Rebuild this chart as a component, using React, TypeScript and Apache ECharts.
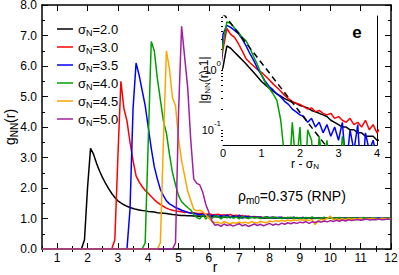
import React, { useEffect, useRef } from 'react';
import * as echarts from 'echarts';

const FONT = '"Liberation Sans", Arial, Helvetica, sans-serif';

// ---- main panel: g_NN(r), sampled every 0.1 from each series' start ----
const R_MIN = 0.5;
const R_MAX = 12;
const R_STEP = 0.1;
const SIGMA_LABELS = ['2.0', '3.0', '3.5', '4.0', '4.5', '5.0'];
const SIGMAS = [2.0, 3.0, 3.5, 4.0, 4.5, 5.0];
const COLORS = ['#000000', '#ff0000', '#0000ff', '#00a000', '#ffa500', '#a020a0'];
const STARTS = [1.8, 2.8, 3.3, 3.8, 4.3, 4.8];

const G_S20 = [
  0, 0.3, 2.0, 3.3, 3.1, 2.8, 2.55, 2.33, 2.14, 1.97,
  1.82, 1.69, 1.58, 1.51, 1.45, 1.4, 1.36, 1.33, 1.3, 1.28,
  1.26, 1.25, 1.23, 1.22, 1.21, 1.19, 1.18, 1.17, 1.16, 1.15,
  1.13, 1.12, 1.11, 1.1, 1.1, 1.09, 1.09, 1.08, 1.08, 1.07,
  1.07, 1.07, 1.06, 1.06, 1.06, 1.05, 1.05, 1.05, 1.04, 1.04,
  1.04, 1.04, 1.03, 1.03, 1.03, 1.03, 1.03, 1.03, 1.03, 1.02,
  1.02, 1.02, 1.02, 1.02, 1.02, 1.02, 1.02, 1.02, 1.02, 1.02,
  1.02, 1.02, 1.02, 1.02, 1.02, 1.01, 1.02, 1.01, 1.01, 1.01,
  1.01, 1.01, 1.01, 1.01, 1.01, 1.01, 1.01, 1.01, 1.01, 1.01,
  1.01, 1.01, 1.01, 1.0, 1.01, 1.0, 1.0, 1.0, 1.0, 1.0,
  1.0, 1.0, 1.0,
];
const G_S30 = [
  0, 0.3, 3.0, 5.5, 4.6, 4.2, 3.5, 2.9, 2.4, 2.2,
  2.05, 1.92, 1.83, 1.72, 1.62, 1.53, 1.46, 1.4, 1.34, 1.3,
  1.27, 1.25, 1.24, 1.22, 1.2, 1.21, 1.18, 1.19, 1.17, 1.16,
  1.17, 1.14, 1.15, 1.13, 1.12, 1.14, 1.11, 1.12, 1.1, 1.13,
  1.09, 1.11, 1.08, 1.1, 1.06, 1.08, 1.05, 1.07, 1.04, 1.05,
  1.03, 1.05, 1.02, 1.04, 1.03, 1.02, 1.04, 1.01, 1.03, 1.02,
  1.03, 1.01, 1.02, 1.03, 1.0, 1.02, 1.03, 1.01, 1.02, 1.0,
  1.02, 1.01, 1.03, 1.0, 1.01, 1.02, 1.0, 1.02, 1.01, 1.0,
  1.01, 1.02, 0.99, 1.01, 1.0, 1.02, 1.0, 0.99, 1.01, 1.0,
  1.0, 1.01, 0.99,
];
const G_S35 = [
  0, 1.3, 4.6, 6.1, 5.7, 5.2, 4.7, 4.0, 3.3, 2.7,
  2.3, 1.95, 1.75, 1.58, 1.48, 1.42, 1.36, 1.32, 1.27, 1.24,
  1.2, 1.18, 1.16, 1.15, 1.12, 1.14, 1.1, 1.12, 1.08, 1.11,
  1.07, 1.1, 1.06, 1.12, 1.02, 1.09, 1.04, 1.11, 1.01, 1.08,
  1.04, 1.06, 1.03, 1.05, 1.04, 1.02, 1.05, 1.03, 1.04, 1.02,
  1.04, 1.03, 1.01, 1.03, 1.02, 1.04, 1.01, 1.02, 1.03, 1.01,
  1.02, 1.03, 1.0, 1.02, 1.01, 1.03, 1.01, 1.02, 1.0, 1.02,
  1.01, 1.0, 1.02, 1.01, 1.0, 1.02, 1.01, 0.99, 1.01, 1.0,
  1.01, 1.0, 1.01, 1.02, 1.0, 1.01, 0.99, 1.0,
];
const G_S40 = [
  0, 0.2, 3.5, 6.8, 6.5, 5.6, 4.9, 4.2, 3.8, 3.1,
  2.5, 2.1, 1.75, 1.55, 1.45, 1.36, 1.28, 1.13, 1.03, 0.99,
  1.12, 0.98, 1.1, 1.0, 1.09, 1.06, 0.99, 1.07, 1.02, 1.06,
  1.01, 1.05, 0.99, 1.07, 1.03, 1.0, 1.05, 1.02, 1.04, 1.0,
  1.03, 1.05, 1.01, 1.03, 1.04, 1.02, 1.0, 1.03, 1.02, 1.04,
  1.01, 1.03, 1.02, 1.0, 1.03, 1.01, 1.04, 1.02, 1.0, 1.02,
  1.03, 1.01, 1.02, 1.0, 1.02, 1.03, 1.01, 1.0, 1.02, 1.01,
  1.02, 1.0, 1.01, 1.03, 1.01, 1.0, 1.02, 1.01, 0.99, 1.01,
  1.0, 1.02, 1.0,
];
const G_S45 = [
  0, 0.2, 3.5, 6.5, 5.9, 4.95, 4.7, 3.6, 2.9, 2.4,
  1.9, 1.6, 1.3, 1.25, 1.27, 1.22, 1.12, 1.0, 0.9, 0.86,
  0.88, 0.83, 0.9, 0.86, 0.82, 0.87, 0.84, 0.89, 0.85, 0.88,
  0.84, 0.9, 0.87, 0.85, 0.91, 0.88, 0.86, 0.92, 0.89, 0.93,
  0.9, 0.94, 0.91, 0.95, 0.92, 0.96, 0.93, 0.97, 0.94, 0.96,
  0.93, 0.97, 0.8, 0.92, 0.97, 0.95, 1.0, 1.08, 0.96, 0.98,
  0.97, 0.99, 0.96, 1.0, 0.97, 0.99, 0.98, 1.0, 0.97, 0.99,
  0.98, 1.0, 0.97, 0.99, 1.0, 0.98, 0.99, 0.98,
];
const G_S50 = [
  0, 0.2, 4.5, 7.3, 6.3, 5.3, 3.6, 2.3, 2.15, 2.1,
  1.85, 1.45, 1.2, 0.92, 0.78, 0.8, 0.74, 0.82, 0.77, 0.8,
  0.75, 0.79, 0.83, 0.76, 0.8, 0.74, 0.78, 0.82, 0.77, 0.81,
  0.76, 0.8, 0.84, 0.78, 0.82, 0.79, 0.85, 0.81, 0.86, 0.83,
  0.87, 0.84, 0.88, 0.86, 0.9, 0.84, 0.89, 0.87, 0.91, 0.88,
  0.92, 0.89, 0.93, 0.9, 0.94, 0.91, 0.95, 0.92, 0.96, 0.93,
  0.95, 0.97, 0.94, 0.96, 0.98, 0.95, 0.97, 0.96, 0.98, 0.96,
  0.97, 0.98, 0.97,
];
const G_VALUES = [G_S20, G_S30, G_S35, G_S40, G_S45, G_S50];

const X_MAJOR_TICKS = [1, 2, 3, 4, 5, 6, 7, 8, 9, 10, 11, 12];
const X_MINOR_TICKS = [0.5, 1.5, 2.5, 3.5, 4.5, 5.5, 6.5, 7.5, 8.5, 9.5, 10.5, 11.5];
const Y_MIN = 0;
const Y_MAX = 8;
const Y_INTERVAL = 1;

// ---- inset: |g_NN(r) - 1| versus r - sigma_N (log scale) ----
const INSET_COUNT = 4; // sigma 2.0, 3.0, 3.5, 4.0
const INSET_X_MIN = 0;
const INSET_X_MAX = 4;
const INSET_Y_MIN = 0.05;
const INSET_Y_MAX = 7.3;
const INSET_Y_MAJOR = [0.1, 1];
const INSET_Y_MINOR = [0.06, 0.07, 0.08, 0.09, 0.2, 0.3, 0.4, 0.5, 0.6, 0.7, 0.8, 0.9, 2, 3, 4, 5, 6, 7];
const DASH_X = [0, 3];
const DASH_Y = [8.1, 0.026];

function mainPoints(idx: number): number[][] {
  const pts: number[][] = [[R_MIN, 0]];
  G_VALUES[idx].forEach((g, i) => {
    pts.push([Math.round((STARTS[idx] + i * R_STEP) * 100) / 100, g]);
  });
  return pts;
}

function insetPoints(idx: number): number[][] {
  return mainPoints(idx)
    .map(([r, g]) => [Math.round((r - SIGMAS[idx]) * 100) / 100, Math.max(Math.abs(g - 1), 0.005)])
    .filter(([x]) => x >= -0.1 && x <= 4.3);
}

const BLACK = '#000';

const subRich = (big: number, small: number, drop: number, lh: number) => ({
  a: { fontSize: big, lineHeight: lh, fontFamily: FONT, fill: BLACK, color: BLACK },
  s: { fontSize: small, lineHeight: lh - drop, padding: [drop, 0, 0, 0], fontFamily: FONT, fill: BLACK, color: BLACK },
});

export default function App() {
  const ref = useRef<HTMLDivElement>(null);
  useEffect(() => {
    if (!ref.current) return;
    const chart = echarts.init(ref.current, undefined, { renderer: 'svg' });

    const tickStyle = { color: BLACK, width: 1 };
    const frame = { show: true, onZero: false, lineStyle: { color: BLACK, width: 1.5 } };
    const insetFrame = { show: true, onZero: false, lineStyle: { color: BLACK, width: 1 } };
    const noSplit = { show: false };

    const mainSeries = SIGMA_LABELS.map((lab, i) => ({
      name: lab,
      type: 'line',
      xAxisIndex: 0,
      yAxisIndex: 0,
      data: mainPoints(i),
      showSymbol: false,
      symbol: 'none',
      lineStyle: { color: COLORS[i], width: 1.5 },
      itemStyle: { color: COLORS[i] },
      z: 3 + i,
    }));

    const insetSeries = SIGMA_LABELS.slice(0, INSET_COUNT).map((lab, i) => ({
      name: 'inset ' + lab,
      type: 'line',
      xAxisIndex: 4,
      yAxisIndex: 2,
      data: insetPoints(i),
      showSymbol: false,
      symbol: 'none',
      clip: true,
      lineStyle: { color: COLORS[i], width: 1.5 },
      z: 10 + i,
    }));

    const option: any = {
      animation: false,
      backgroundColor: '#fff',
      textStyle: { fontFamily: FONT },
      grid: [
        { left: 42, right: 8, top: 5, bottom: 26, containLabel: false, outerBoundsMode: 'none' },
        { left: 223, right: 22, top: 16, bottom: 130, containLabel: false, outerBoundsMode: 'none', show: true, backgroundColor: '#fff', borderWidth: 0, z: 1 },
      ],
      legend: {
        data: SIGMA_LABELS,
        orient: 'vertical',
        left: 52,
        top: 16,
        icon: 'rect',
        itemWidth: 16,
        itemHeight: 1.5,
        itemGap: 2,
        textStyle: {
          color: BLACK,
          fontFamily: FONT,
          fontSize: 13,
          rich: {
            a: { fontSize: 13, lineHeight: 16, fontFamily: FONT, color: BLACK },
            s: { fontSize: 9, lineHeight: 9, padding: [7, 0, 0, 0], fontFamily: FONT, color: BLACK },
          },
        },
        formatter: (name: string) => `{a|σ}{s|N}{a|=${name}}`,
      },
      xAxis: [
        {
          gridIndex: 0, type: 'value', min: R_MIN, max: R_MAX, position: 'bottom',
          axisLine: frame,
          axisTick: { show: true, inside: true, length: 6, customValues: X_MAJOR_TICKS, lineStyle: tickStyle },
          axisLabel: { customValues: X_MAJOR_TICKS, fontSize: 12, lineHeight: 12, color: BLACK, margin: 3, fontFamily: FONT },
          splitLine: noSplit,
        },
        {
          gridIndex: 0, type: 'value', min: R_MIN, max: R_MAX, position: 'bottom',
          axisLine: { show: false },
          axisTick: { show: true, inside: true, length: 3, customValues: X_MINOR_TICKS, lineStyle: tickStyle },
          axisLabel: { show: false }, splitLine: noSplit,
        },
        {
          gridIndex: 0, type: 'value', min: R_MIN, max: R_MAX, position: 'top',
          axisLine: frame,
          axisTick: { show: true, inside: true, length: 6, customValues: X_MAJOR_TICKS, lineStyle: tickStyle },
          axisLabel: { show: false }, splitLine: noSplit,
        },
        {
          gridIndex: 0, type: 'value', min: R_MIN, max: R_MAX, position: 'top',
          axisLine: { show: false },
          axisTick: { show: true, inside: true, length: 3, customValues: X_MINOR_TICKS, lineStyle: tickStyle },
          axisLabel: { show: false }, splitLine: noSplit,
        },
        {
          gridIndex: 1, type: 'value', min: INSET_X_MIN, max: INSET_X_MAX, interval: 1, position: 'bottom',
          axisLine: insetFrame,
          axisTick: { show: true, inside: true, length: 4, lineStyle: tickStyle },
          minorTick: { show: true, splitNumber: 2, length: 2, lineStyle: tickStyle },
          axisLabel: { fontSize: 11, lineHeight: 11, color: BLACK, margin: 2, fontFamily: FONT },
          splitLine: noSplit, minorSplitLine: { show: false },
        },
        {
          gridIndex: 1, type: 'value', min: INSET_X_MIN, max: INSET_X_MAX, interval: 1, position: 'top',
          axisLine: insetFrame,
          axisTick: { show: true, inside: true, length: 4, lineStyle: tickStyle },
          minorTick: { show: true, splitNumber: 2, length: 2, lineStyle: tickStyle },
          axisLabel: { show: false }, splitLine: noSplit, minorSplitLine: { show: false },
        },
      ],
      yAxis: [
        {
          gridIndex: 0, type: 'value', min: Y_MIN, max: Y_MAX, interval: Y_INTERVAL, position: 'left',
          axisLine: frame,
          axisTick: { show: true, inside: true, length: 6, lineStyle: tickStyle },
          minorTick: { show: true, splitNumber: 2, length: 3, lineStyle: tickStyle },
          axisLabel: { fontSize: 12, lineHeight: 11, color: BLACK, margin: 5, fontFamily: FONT, formatter: (v: number) => v.toFixed(1) },
          splitLine: noSplit, minorSplitLine: { show: false },
        },
        {
          gridIndex: 0, type: 'value', min: Y_MIN, max: Y_MAX, interval: Y_INTERVAL, position: 'right',
          axisLine: frame,
          axisTick: { show: true, inside: true, length: 6, lineStyle: tickStyle },
          minorTick: { show: true, splitNumber: 2, length: 3, lineStyle: tickStyle },
          axisLabel: { show: false }, splitLine: noSplit, minorSplitLine: { show: false },
        },
        {
          gridIndex: 1, type: 'log', logBase: 10, min: INSET_Y_MIN, max: INSET_Y_MAX, position: 'left',
          axisLine: insetFrame,
          axisTick: { show: true, inside: true, length: 4, customValues: INSET_Y_MAJOR, lineStyle: tickStyle },
          axisLabel: {
            customValues: INSET_Y_MAJOR, margin: 2, color: BLACK, fontFamily: FONT,
            formatter: (v: number) => `{b|10}{p|${Math.round(Math.log10(v))}}`,
            rich: {
              b: { fontSize: 11, lineHeight: 12, padding: [5, 0, 0, 0], fontFamily: FONT, color: BLACK },
              p: { fontSize: 8, lineHeight: 9, padding: [0, 0, 8, 0], fontFamily: FONT, color: BLACK },
            },
          },
          splitLine: noSplit,
        },
        {
          gridIndex: 1, type: 'log', logBase: 10, min: INSET_Y_MIN, max: INSET_Y_MAX, position: 'left',
          axisLine: { show: false },
          axisTick: { show: true, inside: true, length: 2, customValues: INSET_Y_MINOR, lineStyle: tickStyle },
          axisLabel: { show: false }, splitLine: noSplit,
        },
        {
          gridIndex: 1, type: 'log', logBase: 10, min: INSET_Y_MIN, max: INSET_Y_MAX, position: 'right',
          axisLine: insetFrame,
          axisTick: { show: true, inside: true, length: 4, customValues: INSET_Y_MAJOR, lineStyle: tickStyle },
          axisLabel: { show: false }, splitLine: noSplit,
        },
        {
          gridIndex: 1, type: 'log', logBase: 10, min: INSET_Y_MIN, max: INSET_Y_MAX, position: 'right',
          axisLine: { show: false },
          axisTick: { show: true, inside: true, length: 2, customValues: INSET_Y_MINOR, lineStyle: tickStyle },
          axisLabel: { show: false }, splitLine: noSplit,
        },
      ],
      series: [
        ...mainSeries,
        ...insetSeries,
        {
          name: 'inset fit',
          type: 'line',
          xAxisIndex: 4,
          yAxisIndex: 2,
          data: DASH_X.map((x, i) => [x, DASH_Y[i]]),
          showSymbol: false,
          symbol: 'none',
          clip: true,
          lineStyle: { color: BLACK, width: 1.5, type: [6, 4] },
          z: 20,
        },
      ],
      graphic: [
        {
          type: 'text', x: 10, y: 127, rotation: Math.PI / 2, z: 50,
          style: { text: '{a|g}{s|NN}{a|(r)}', align: 'center', verticalAlign: 'middle', rich: subRich(14, 10, 8, 18) },
        },
        {
          type: 'text', x: 215, y: 267, z: 50,
          style: { text: 'r', fontSize: 14, fontFamily: FONT, fill: BLACK, align: 'center', verticalAlign: 'middle' },
        },
        {
          type: 'text', x: 204, y: 80, rotation: Math.PI / 2, z: 50,
          style: { text: '{a||g}{s|NN}{a|(r)-1|}', align: 'center', verticalAlign: 'middle', rich: subRich(12, 8, 6, 14) },
        },
        {
          type: 'text', x: 305, y: 164, z: 50,
          style: { text: '{a|r - σ}{s|N}', align: 'center', verticalAlign: 'middle', rich: subRich(12, 8, 5, 13) },
        },
        {
          type: 'text', x: 238, y: 196, z: 50,
          style: { text: '{a|ρ}{s|m0}{a|=0.375 (RNP)}', verticalAlign: 'middle', rich: subRich(14, 10, 8, 18) },
        },
        {
          type: 'text', x: 357, y: 32, z: 50,
          style: { text: 'e', fontSize: 17, fontWeight: 'bold', fontFamily: FONT, fill: BLACK, align: 'center', verticalAlign: 'middle' },
        },
      ],
    };

    chart.setOption(option);
    return () => chart.dispose();
  }, []);

  return (
    <div
      ref={ref}
      style={{ position: 'fixed', left: 0, top: 0, width: 399, height: 275, background: '#fff' }}
    />
  );
}
